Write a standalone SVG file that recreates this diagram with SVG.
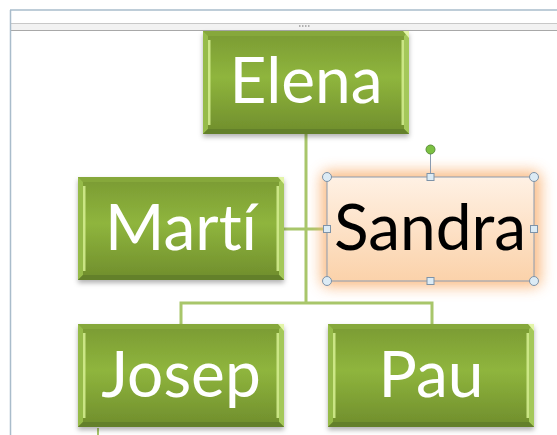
<svg xmlns="http://www.w3.org/2000/svg" width="557" height="435" viewBox="0 0 557 435">
<defs>
<linearGradient id="gfill" x1="0" y1="0" x2="0" y2="1">
<stop offset="0" stop-color="#7a9a33"/>
<stop offset="0.45" stop-color="#8fb53d"/>
<stop offset="1" stop-color="#6f8d2c"/>
</linearGradient>
<linearGradient id="sfill" x1="0" y1="0" x2="0" y2="1">
<stop offset="0" stop-color="#fff1e4"/>
<stop offset="1" stop-color="#fbd2aa"/>
</linearGradient>
<filter id="shadow" x="-10%" y="-10%" width="120%" height="130%">
<feDropShadow dx="0" dy="3" stdDeviation="2.5" flood-color="#000" flood-opacity="0.3"/>
</filter>
<filter id="glow" x="-20%" y="-30%" width="140%" height="160%">
<feGaussianBlur stdDeviation="7"/>
</filter>
<g id="bevel">
<rect x="0" y="0" width="206" height="103" fill="url(#gfill)"/>
<polygon points="0,0 206,0 201,5 5,5" fill="#86a83b"/>
<polygon points="0,0 5,5 5,98 0,103" fill="#96bb48"/>
<polygon points="206,0 206,103 201,98 201,5" fill="#a4c85a"/>
<polygon points="0,103 5,98 201,98 206,103" fill="#63802a"/>
<rect x="5" y="9" width="2.5" height="85" fill="#d3ec8e" opacity="0.9"/>
<rect x="198.5" y="9" width="2.5" height="85" fill="#d3ec8e" opacity="0.9"/>
<polygon points="200,0 206,0 206,7" fill="#e3f5a8"/>
</g>
</defs>
<style>
text{font-variant-ligatures:none;font-feature-settings:"liga" 0}
.name{font-family:"Lato","Open Sans","Liberation Sans",sans-serif;font-size:64px;fill:#ffffff;text-anchor:middle}
.conn{fill:none;stroke:#a8c66a;stroke-width:3}
.hc{fill:#dcebf5;stroke:#7e93a8;stroke-width:1}
.frame{fill:none;stroke:#a9bccb;stroke-width:1.5}
</style>
<rect width="557" height="435" fill="#ffffff"/>
<!-- window frame -->
<rect x="11" y="23" width="546" height="7" fill="#f2f2f2"/>
<line x1="11" y1="23.5" x2="557" y2="23.5" stroke="#c8c8c8" stroke-width="1"/>
<line x1="11" y1="30.5" x2="557" y2="30.5" stroke="#a8a8a8" stroke-width="1"/>
<line x1="10" y1="10" x2="557" y2="10" class="frame"/>
<line x1="10.5" y1="10" x2="10.5" y2="435" class="frame"/>
<g fill="#b0b0b0">
<rect x="299" y="25" width="1.5" height="2"/><rect x="302" y="25" width="1.5" height="2"/><rect x="305" y="25" width="1.5" height="2"/><rect x="308" y="25" width="1.5" height="2"/>
</g>
<!-- connectors -->
<g id="connectors">
<path class="conn" d="M306,134 V303 M181,324 V303 H432 V324 M284,229 H327"/>
<line x1="98" y1="428" x2="98" y2="435" stroke="#a8c66a" stroke-width="2"/>
</g>
<g id="elena" filter="url(#shadow)">
<use href="#bevel" transform="translate(203,31)"/>
<text class="name" x="306" y="103">Elena</text>
</g>
<g id="marti" filter="url(#shadow)">
<use href="#bevel" transform="translate(78,177)"/>
<text class="name" x="181" y="250">Martí</text>
</g>
<g id="josep" filter="url(#shadow)">
<use href="#bevel" transform="translate(78,324)"/>
<text class="name" x="181" y="397">Josep</text>
</g>
<g id="pau" filter="url(#shadow)">
<use href="#bevel" transform="translate(328,324)"/>
<text class="name" x="431" y="397">Pau</text>
</g>
<g id="sandra">
<rect x="321" y="171" width="220" height="116" rx="8" fill="#f9b273" opacity="0.85" filter="url(#glow)"/>
<rect x="327" y="177" width="207" height="104" fill="url(#sfill)"/>
<text x="430" y="250" font-family="Lato,'Open Sans','Liberation Sans',sans-serif" font-size="64" fill="#000" text-anchor="middle">Sandra</text>
<rect x="327" y="177" width="207" height="104" fill="none" stroke="#8a9bb0" stroke-width="1"/>
<line x1="430.5" y1="150" x2="430.5" y2="177" stroke="#8a9bb0" stroke-width="1"/>
<circle cx="430.5" cy="149.5" r="4.5" fill="#7cc142" stroke="#5b8f3a" stroke-width="1"/>
<circle class="hc" cx="327" cy="177" r="4.5"/>
<circle class="hc" cx="534" cy="177" r="4.5"/>
<circle class="hc" cx="327" cy="281" r="4.5"/>
<circle class="hc" cx="534" cy="281" r="4.5"/>
<rect class="hc" x="427" y="173.5" width="7" height="7"/>
<rect class="hc" x="427" y="277.5" width="7" height="7"/>
<rect class="hc" x="323.5" y="225.5" width="7" height="7"/>
<rect class="hc" x="530.5" y="225.5" width="7" height="7"/>
</g>
</svg>
